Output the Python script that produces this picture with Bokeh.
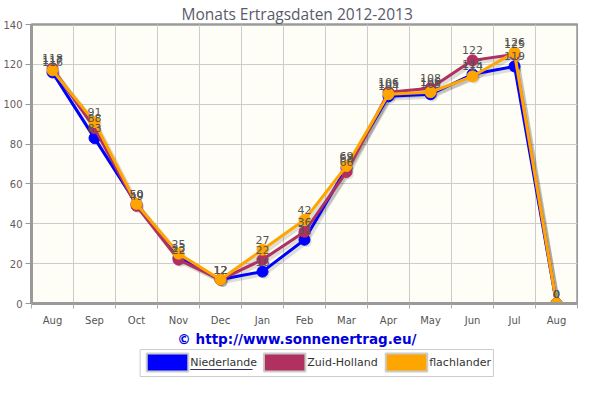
import numpy as np
from bokeh.plotting import figure
from bokeh.models import FixedTicker, Range1d, ColumnDataSource
from bokeh.layouts import column
from bokeh.embed import file_html
from bokeh.resources import INLINE
from bokeh.core.properties import value

# ---------------- data ----------------
months = ["Aug", "Sep", "Oct", "Nov", "Dec", "Jan", "Feb", "Mar", "Apr", "May", "Jun", "Jul", "Aug"]
niederlande = [116, 83, 50, 23, 12, 16, 32, 68, 104, 105, 115, 119, 0]
zuid_holland = [118, 88, 49, 22, 12, 22, 36, 66, 106, 108, 122, 125, 0]
flachlander = [117, 91, 50, 25, 12, 27, 42, 69, 105, 106, 114, 126, 0]
series_names = ["Niederlande", "Zuid-Holland", "flachlander"]
series_values = [niederlande, zuid_holland, flachlander]
colors = ["#0000ff", "#b03060", "#ffa500"]
y_ticks = [0, 20, 40, 60, 80, 100, 120, 140]
title_text = "Monats Ertragsdaten 2012-2013"
copyright_text = "\u00a9 http://www.sonnenertrag.eu/"

W = 578
H_MAIN = 328
H_FOOT = 50

xs = list(range(len(months)))
bounds = [i - 0.5 for i in range(len(months) + 1)]

p = figure(width=W, height=H_MAIN, output_backend="svg", toolbar_location=None,
           x_range=Range1d(-0.5, len(months) - 0.5), y_range=Range1d(0, 140),
           min_border_left=24, min_border_right=1, min_border_top=0, min_border_bottom=0,
           background_fill_color="#fffef6", border_fill_color="white")
p.title.text = title_text
p.title.align = "left"
p.title.text_font = "Open Sans"
p.title.text_font_size = "15.5px"
p.title.text_font_style = "normal"
p.title.text_color = "#5a5a6a"
p.title.offset = 150
p.title.standoff = 0

p.outline_line_color = "#9a9a9a"
p.outline_line_width = 2.5
p.outline_line_alpha = 1

# grids
p.xgrid.ticker = FixedTicker(ticks=bounds)
p.xgrid.grid_line_color = "#cccccc"
p.ygrid.ticker = FixedTicker(ticks=y_ticks)
p.ygrid.grid_line_color = "#cccccc"

# x axis
p.xaxis.ticker = FixedTicker(ticks=xs, minor_ticks=bounds)
p.xaxis.major_label_overrides = {i: m for i, m in enumerate(months)}
p.xaxis.major_tick_out = 0
p.xaxis.major_tick_in = 0
p.xaxis.minor_tick_out = 5
p.xaxis.minor_tick_in = 0
p.xaxis.minor_tick_line_color = "#aaaaaa"
p.xaxis.axis_line_color = "#9a9a9a"
p.xaxis.axis_line_width = 3
p.xaxis.major_label_text_font = "DejaVu Sans"
p.xaxis.major_label_text_font_size = "10px"
p.xaxis.major_label_text_color = "#555555"
p.xaxis.major_label_standoff = 6

# y axis
p.yaxis.ticker = FixedTicker(ticks=y_ticks)
p.yaxis.major_tick_out = 6
p.yaxis.major_tick_in = 0
p.yaxis.minor_tick_out = 0
p.yaxis.minor_tick_in = 0
p.yaxis.major_tick_line_color = "#999999"
p.yaxis.axis_line_color = "#9a9a9a"
p.yaxis.axis_line_width = 3
p.yaxis.major_label_text_font = "DejaVu Sans"
p.yaxis.major_label_text_font_size = "10px"
p.yaxis.major_label_text_color = "#6a5a5a"
p.yaxis.major_label_standoff = 3

# shadows
for vals in series_values:
    sx = [x + 0.05 for x in xs]
    sy = [v - 1.2 for v in vals]
    p.line(sx, sy, line_color="black", line_alpha=0.13, line_width=4)
    p.scatter(sx, sy, size=10, fill_color="black", fill_alpha=0.12, line_color=None)

# series
for name, vals, col in zip(series_names, series_values, colors):
    src = ColumnDataSource(dict(x=xs, y=vals, t=[str(v) for v in vals]))
    p.line("x", "y", source=src, line_color=col, line_width=3)
    p.scatter("x", "y", source=src, size=11, fill_color=col, line_color=col)

for vals in series_values:
    src = ColumnDataSource(dict(x=xs, y=vals, t=[str(v) for v in vals]))
    p.text("x", "y", text="t", source=src, y_offset=-6, text_align="center",
           text_baseline="bottom", text_font=value("DejaVu Sans"),
           text_font_size="11px", text_color="#555555")

# ---------------- footer: copyright + legend ----------------
f = figure(width=W, height=H_FOOT, output_backend="svg", toolbar_location=None,
           x_range=Range1d(0, W), y_range=Range1d(H_FOOT, 0),
           min_border=0, outline_line_color=None)
f.axis.visible = False
f.grid.visible = False

f.text([W / 2 - 8], [10], text=[copyright_text], text_align="center", text_baseline="middle",
       text_font=value("DejaVu Sans"), text_font_style="bold", text_font_size="13.5px",
       text_color="#0000dd")

# legend box
f.quad(left=[115], right=[489], top=[21], bottom=[48], fill_color="white",
       line_color="#cccccc", line_width=1)
sw_left = [122, 246, 375]
txt_left = [168, 292, 421]
for sl, tl, name, col in zip(sw_left, txt_left, series_names, colors):
    f.quad(left=[sl], right=[sl + 44], top=[25], bottom=[43], fill_color=col,
           line_color="#cccccc", line_width=2)
    f.text([tl], [34], text=[name], text_align="left", text_baseline="middle",
           text_font=value("DejaVu Sans"), text_font_size="11px", text_color="#333333")

# underline under first legend entry
f.segment(x0=[txt_left[0]], y0=[41], x1=[txt_left[0] + 66], y1=[41],
          line_color="#333366", line_width=1)

layout = column(p, f, spacing=0)
open("out.html", "w").write(file_html(layout, INLINE))
